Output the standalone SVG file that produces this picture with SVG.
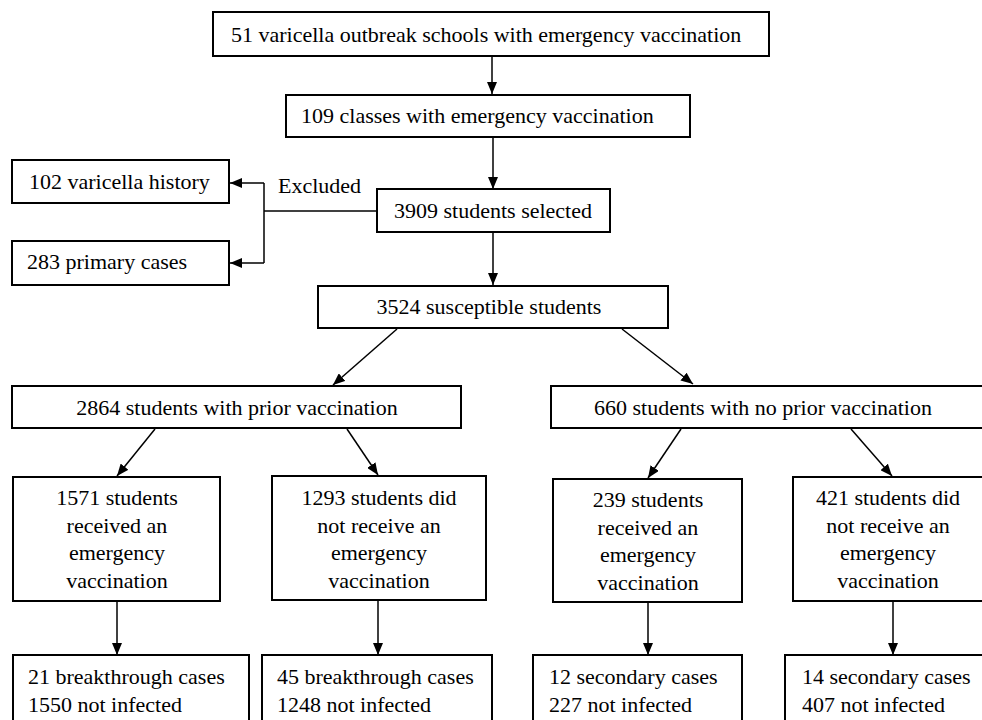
<svg xmlns="http://www.w3.org/2000/svg" width="982" height="720" viewBox="0 0 982 720">
<style>
.box{fill:#fff;stroke:#000;stroke-width:2}
.t{font-family:"Liberation Serif","DejaVu Serif",serif;font-size:22px;fill:#000}
.c{text-anchor:middle}
.ln{fill:none;stroke:#000;stroke-width:1.5}
</style>
<defs>
<marker id="ah" viewBox="0 0 12 10" refX="12" refY="5" markerWidth="12" markerHeight="10" markerUnits="userSpaceOnUse" orient="auto">
<path d="M0,0 L12,5 L0,10 Z" fill="#000"/>
</marker>
</defs>
<rect width="982" height="720" fill="#fff"/>
<g id="connectors">
<line class="ln" x1="492" y1="56" x2="492" y2="94" marker-end="url(#ah)"/>
<line class="ln" x1="493" y1="137" x2="493" y2="189" marker-end="url(#ah)"/>
<line class="ln" x1="493" y1="232" x2="493" y2="285" marker-end="url(#ah)"/>
<line class="ln" x1="377" y1="211" x2="264" y2="211"/>
<line class="ln" x1="264" y1="183" x2="264" y2="263"/>
<line class="ln" x1="264" y1="183" x2="230" y2="183" marker-end="url(#ah)"/>
<line class="ln" x1="264" y1="263" x2="230" y2="263" marker-end="url(#ah)"/>
<line class="ln" x1="397" y1="329" x2="333" y2="385" marker-end="url(#ah)"/>
<line class="ln" x1="622" y1="329" x2="693" y2="384" marker-end="url(#ah)"/>
<line class="ln" x1="155" y1="429" x2="117" y2="476" marker-end="url(#ah)"/>
<line class="ln" x1="347" y1="429" x2="378" y2="475" marker-end="url(#ah)"/>
<line class="ln" x1="681" y1="429" x2="648" y2="478" marker-end="url(#ah)"/>
<line class="ln" x1="851" y1="429" x2="892" y2="476" marker-end="url(#ah)"/>
<line class="ln" x1="117" y1="601" x2="117" y2="655" marker-end="url(#ah)"/>
<line class="ln" x1="378" y1="600" x2="378" y2="655" marker-end="url(#ah)"/>
<line class="ln" x1="648" y1="602" x2="648" y2="655" marker-end="url(#ah)"/>
<line class="ln" x1="893" y1="601" x2="893" y2="655" marker-end="url(#ah)"/>
</g>
<text class="t" x="278" y="193">Excluded</text>
<g id="n1"><rect class="box" x="213" y="12" width="556" height="44"/><text class="t" x="231" y="42">51 varicella outbreak schools with emergency vaccination</text></g>
<g id="n2"><rect class="box" x="286" y="95" width="404" height="42"/><text class="t" x="301" y="123">109 classes with emergency vaccination</text></g>
<g id="n3"><rect class="box" x="377" y="189" width="233" height="43"/><text class="t c" x="493" y="218">3909 students selected</text></g>
<g id="n4"><rect class="box" x="12" y="160" width="217" height="43"/><text class="t" x="29" y="189">102 varicella history</text></g>
<g id="n5"><rect class="box" x="12" y="241" width="217" height="44"/><text class="t" x="27" y="269">283 primary cases</text></g>
<g id="n6"><rect class="box" x="318" y="286" width="350" height="42"/><text class="t c" x="489" y="314">3524 susceptible students</text></g>
<g id="n7"><rect class="box" x="12" y="386" width="449" height="42"/><text class="t c" x="237" y="415">2864 students with prior vaccination</text></g>
<g id="n8"><rect class="box" x="551" y="386" width="445" height="42"/><text class="t c" x="763" y="415">660 students with no prior vaccination</text></g>
<g id="n9"><rect class="box" x="13" y="477" width="207" height="124"/>
<text class="t c" x="117" y="505">1571 students</text><text class="t c" x="117" y="533">received an</text><text class="t c" x="117" y="560">emergency</text><text class="t c" x="117" y="588">vaccination</text></g>
<g id="n10"><rect class="box" x="272" y="476" width="214" height="124"/>
<text class="t c" x="379" y="505">1293 students did</text><text class="t c" x="379" y="533">not receive an</text><text class="t c" x="379" y="560">emergency</text><text class="t c" x="379" y="588">vaccination</text></g>
<g id="n11"><rect class="box" x="553" y="479" width="189" height="123"/>
<text class="t c" x="648" y="507">239 students</text><text class="t c" x="648" y="535">received an</text><text class="t c" x="648" y="562">emergency</text><text class="t c" x="648" y="590">vaccination</text></g>
<g id="n12"><rect class="box" x="793" y="477" width="200" height="124"/>
<text class="t c" x="888" y="505">421 students did</text><text class="t c" x="888" y="533">not receive an</text><text class="t c" x="888" y="560">emergency</text><text class="t c" x="888" y="588">vaccination</text></g>
<g id="n13"><rect class="box" x="13" y="655" width="236" height="80"/>
<text class="t" x="28" y="684">21 breakthrough cases</text><text class="t" x="28" y="712">1550 not infected</text></g>
<g id="n14"><rect class="box" x="262" y="655" width="230" height="80"/>
<text class="t" x="277" y="684">45 breakthrough cases</text><text class="t" x="277" y="712">1248 not infected</text></g>
<g id="n15"><rect class="box" x="533" y="655" width="209" height="80"/>
<text class="t" x="549" y="684">12 secondary cases</text><text class="t" x="549" y="712">227 not infected</text></g>
<g id="n16"><rect class="box" x="785" y="655" width="210" height="80"/>
<text class="t" x="802" y="684">14 secondary cases</text><text class="t" x="802" y="712">407 not infected</text></g>
</svg>
